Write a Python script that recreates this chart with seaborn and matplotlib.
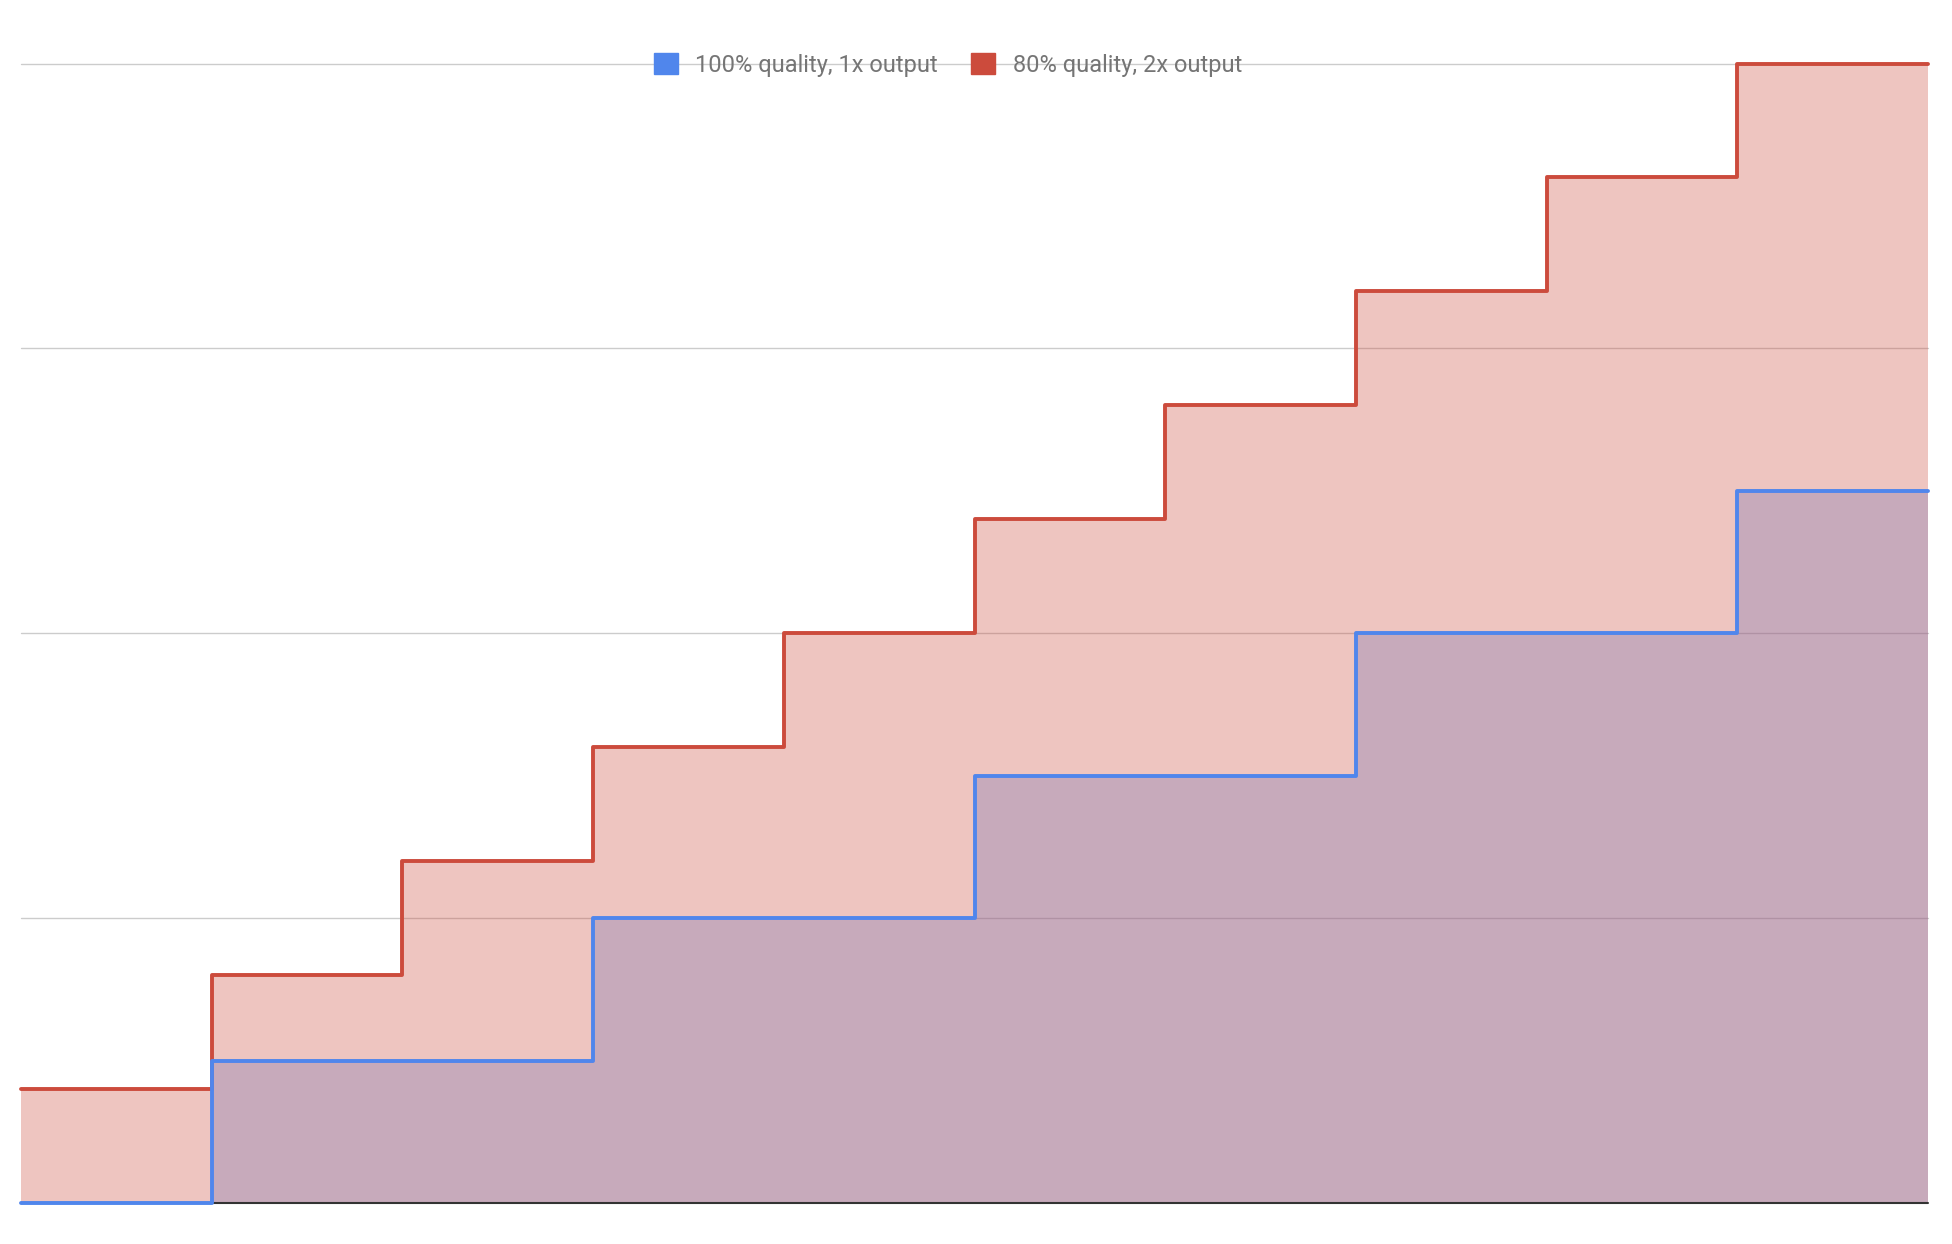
import numpy as np
import pandas as pd
import matplotlib
matplotlib.use("Agg")
import matplotlib.pyplot as plt
from matplotlib.patches import Patch
import seaborn as sns

# step values, one per period
periods = [0, 1, 2, 3, 4, 5, 6, 7, 8, 9, 10]
full_quality = [0, 1, 1, 2, 2, 3, 3, 4, 4, 5, 5]
half_quality = [0.8, 1.6, 2.4, 3.2, 4.0, 4.8, 5.6, 6.4, 7.2, 8.0, 8.0]
labels = ["100% quality, 1x output", "80% quality, 2x output"]

BLUE = "#5086EC"
RED = "#CC4B3C"

sns.set_style("white")
plt.rcParams["font.family"] = ["Roboto", "DejaVu Sans"]

df = pd.DataFrame({"period": periods, "full": full_quality, "half": half_quality})

fig = plt.figure(figsize=(19.52, 12.44), dpi=100)
ax = fig.add_axes([21 / 1952, 41 / 1244, 1907 / 1952, 1139.5 / 1244])

# gridlines
for g in [2, 4, 6, 8]:
    ax.axhline(g, color="#cccccc", lw=1.0, zorder=0, clip_on=False)

# fills: blue under, red on top
ax.fill_between(df["period"], 0, df["full"], step="post", color=BLUE, alpha=0.32, lw=0, zorder=1)
ax.fill_between(df["period"], 0, df["half"], step="post", color=RED, alpha=0.32, lw=0, zorder=2)

ax.axhline(0, color="#333333", lw=1.5, zorder=3, clip_on=False)

sns.lineplot(data=df, x="period", y="half", ax=ax, color=RED, lw=2.8,
             drawstyle="steps-post", zorder=4, clip_on=False)
sns.lineplot(data=df, x="period", y="full", ax=ax, color=BLUE, lw=2.8,
             drawstyle="steps-post", zorder=5, clip_on=False)

ax.set_xlim(0, 10)
ax.set_ylim(0, 8)
ax.set_xticks([])
ax.set_yticks([])
ax.set_xlabel("")
ax.set_ylabel("")
sns.despine(ax=ax, left=True, bottom=True)

handles = [Patch(facecolor=BLUE, edgecolor=BLUE), Patch(facecolor=RED, edgecolor=RED)]
fig.legend(handles, labels, loc="center", bbox_to_anchor=(948 / 1952, 1 - 65 / 1244),
           ncol=2, frameon=False, fontsize=17, labelcolor="#757575",
           handlelength=1.0, handleheight=1.0, handletextpad=0.75, columnspacing=1.4)

fig.savefig("out.png", dpi=100)
